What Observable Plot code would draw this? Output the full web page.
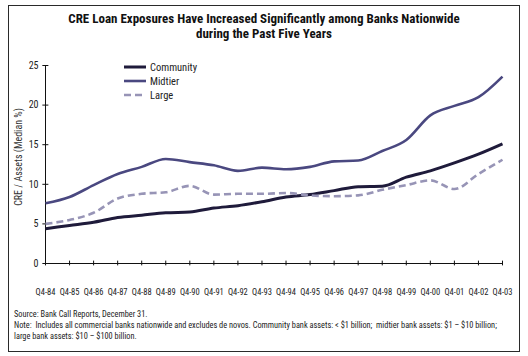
<!DOCTYPE html>
<html>
<head>
<meta charset="utf-8">
<script src="https://cdn.jsdelivr.net/npm/d3@7"></script>
<script src="https://cdn.jsdelivr.net/npm/@observablehq/plot@0.6"></script>
<style>
  body { margin: 0; background: #fff; }
  #wrap { position: relative; width: 528px; height: 356px; overflow: hidden;
    font-family: "Liberation Sans Narrow", "Roboto Condensed", "DejaVu Sans Condensed", "Liberation Sans", Arial, sans-serif; font-stretch: condensed; }
  #border { position: absolute; left: 8px; top: 5px; width: 510px; height: 345px; border: 1.5px solid #2a2a2a; }
  #title { position: absolute; left: 0; top: 11px; width: 528px; text-align: center; font-weight: bold; font-size: 13px; line-height: 15px; color: #111; }
  #chart { position: absolute; left: 0; top: 50px; }
  #legend { position: absolute; left: 124px; top: 60px; font-size: 10.5px; color: #222; }
  #legend div { height: 14px; line-height: 13px; display: flex; align-items: center; }
  #legend svg { margin-right: 4px; }
  #ylabel { position: absolute; left: 18px; top: 157px; transform: translate(-50%, -50%) rotate(-90deg); white-space: nowrap; font-size: 10px; color: #333; }
  #notes { position: absolute; left: 14px; top: 309px; font-size: 8.3px; line-height: 11px; color: #222; }
</style>
</head>
<body>
<div id="wrap">
  <div id="border"></div>
  <div id="title">CRE Loan Exposures Have Increased Significantly among Banks Nationwide<br>during the Past Five Years</div>
  <div id="chart"></div>
  <div id="ylabel">CRE / Assets (Median %)</div>
  <div id="legend"></div>
  <div id="notes">Source: Bank Call Reports, December 31.<br>Note:&nbsp; Includes all commercial banks nationwide and excludes de novos. Community bank assets: &lt; $1 billion;&nbsp; midtier bank assets: $1 – $10 billion;<br>large bank assets: $10 – $100 billion.</div>
</div>
<script>
const years = [1984,1985,1986,1987,1988,1989,1990,1991,1992,1993,1994,1995,1996,1997,1998,1999,2000,2001,2002,2003];
const tickLabels = ["Q4-84","Q4-85","Q4-86","Q4-87","Q4-88","Q4-89","Q4-90","Q4-91","Q4-92","Q4-93","Q4-94","Q4-95","Q4-96","Q4-97","Q4-98","Q4-99","Q4-00","Q4-01","Q4-02","Q4-03"];
const community = [4.4, 4.8, 5.2, 5.8, 6.1, 6.4, 6.5, 7.0, 7.3, 7.8, 8.4, 8.7, 9.2, 9.7, 9.75, 10.9, 11.7, 12.7, 13.8, 15.1];
const midtier   = [7.6, 8.4, 9.9, 11.3, 12.2, 13.2, 12.8, 12.4, 11.7, 12.1, 11.9, 12.2, 12.9, 13.0, 14.2, 15.6, 18.7, 19.9, 21.0, 23.6];
const large     = [5.0, 5.5, 6.4, 8.2, 8.8, 9.0, 9.8, 8.7, 8.8, 8.8, 8.9, 8.6, 8.5, 8.6, 9.3, 9.9, 10.5, 9.4, 11.3, 13.1];
const yTicks = [0, 5, 10, 15, 20, 25];

const seriesNames = ["Community", "Midtier", "Large"];
const seriesValues = [community, midtier, large];
const seriesStyle = {
  Community: {stroke: "#1f1b3b", width: 3, dash: null},
  Midtier: {stroke: "#4a4880", width: 2.6, dash: null},
  Large: {stroke: "#9794b6", width: 2.6, dash: "7,4"}
};

const rows = [];
seriesNames.forEach((name, i) => years.forEach((yr, j) => rows.push({series: name, year: yr, value: seriesValues[i][j]})));

const fontFam = getComputedStyle(document.getElementById("wrap")).fontFamily;

const chart = Plot.plot({
  width: 528,
  height: 260,
  marginLeft: 45,
  marginRight: 26,
  marginTop: 15,
  marginBottom: 47,
  style: {fontFamily: fontFam, fontSize: "9.5px", color: "#222", overflow: "visible"},
  x: {domain: [years[0], years[years.length - 1]]},
  y: {domain: [0, 25]},
  marks: [
    Plot.ruleY([0], {stroke: "#111", strokeWidth: 1}),
    Plot.ruleX([years[0]], {stroke: "#111", strokeWidth: 1}),
    Plot.ruleX(years, {x: d => d, y1: -0.3, y2: 0.3, stroke: "#111", strokeWidth: 1}),
    Plot.ruleY(yTicks, {y: d => d, x1: years[0] - 0.11, x2: years[0] + 0.14, stroke: "#111", strokeWidth: 1}),
    Plot.axisY({ticks: yTicks, tickSize: 0, tickPadding: 7, label: null, fontSize: 10}),
    Plot.axisX({ticks: years, tickSize: 0, tickPadding: 25, label: null, tickFormat: (d) => tickLabels[years.indexOf(d)], fontSize: 8.5}),
    ...seriesNames.map(name => Plot.line(rows.filter(r => r.series === name), {
      x: "year", y: "value", curve: "monotone-x",
      stroke: seriesStyle[name].stroke, strokeWidth: seriesStyle[name].width,
      strokeDasharray: seriesStyle[name].dash, strokeLinecap: "butt"
    }))
  ]
});
document.getElementById("chart").appendChild(chart);

const legend = document.getElementById("legend");
seriesNames.forEach(name => {
  const s = seriesStyle[name];
  const div = document.createElement("div");
  div.innerHTML = `<svg width="22" height="6"><line x1="0" x2="22" y1="3" y2="3" stroke="${s.stroke}" stroke-width="${s.width}" ${s.dash ? `stroke-dasharray="${s.dash}"` : ""}/></svg><span>${name}</span>`;
  legend.appendChild(div);
});
</script>
</body>
</html>
